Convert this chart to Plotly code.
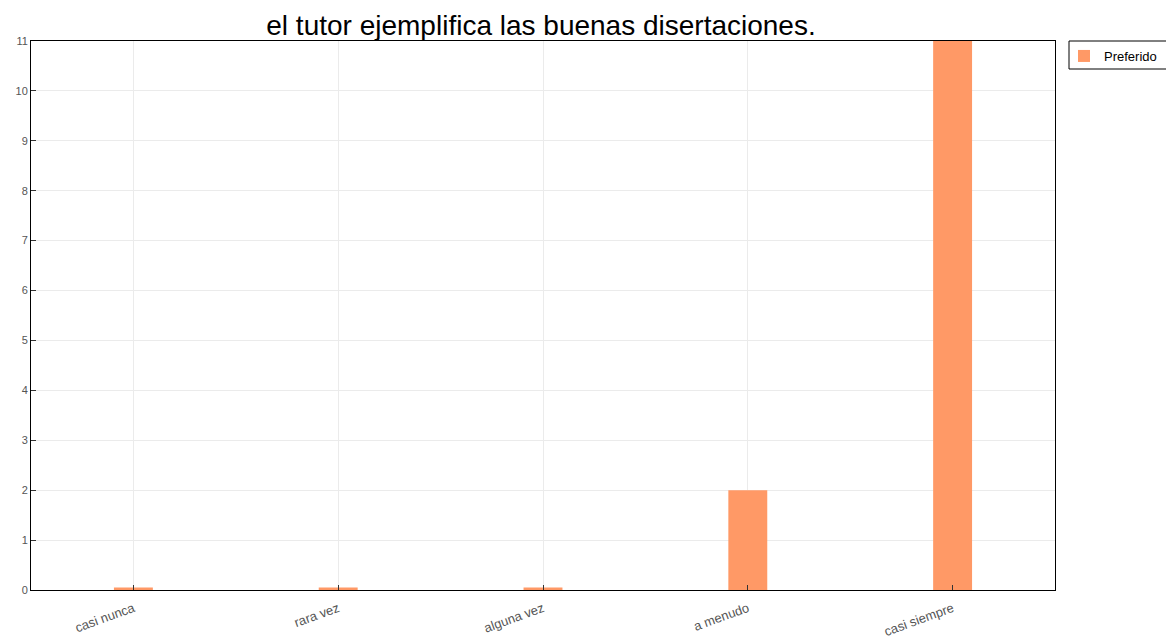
import plotly.graph_objects as go

categories = ["casi nunca", "rara vez", "alguna vez", "a menudo", "casi siempre"]
values = [0.05, 0.05, 0.05, 2, 11]
series_name = "Preferido"
title_text = "el tutor ejemplifica las buenas disertaciones."
y_ticks = list(range(0, 12))

W, H = 1166, 641
L, R, T, B = 31, 111, 41, 51
pw, ph = W - L - R, H - T - B

fig = go.Figure()
fig.add_trace(go.Bar(
    x=categories, y=values, name=series_name,
    marker=dict(color="#FF9966", line=dict(width=0)),
    width=0.19, showlegend=True,
))

# legend frame (decoration)
fig.add_shape(type="rect", xref="paper", yref="paper",
              x0=(1069 - L) / pw, x1=(1175 - L) / pw,
              y0=(H - B - 69) / ph, y1=(H - B - 41) / ph,
              line=dict(color="black", width=1), fillcolor="rgba(0,0,0,0)", layer="above")

fig.update_layout(
    width=W, height=H,
    margin=dict(l=L, r=R, t=T, b=B, autoexpand=False),
    paper_bgcolor="white", plot_bgcolor="white",
    font=dict(family="Liberation Sans, Arial, sans-serif", size=12, color="#555"),
    title=dict(text=title_text, x=(541 - L) / pw, xref="paper", y=1 - 25/641, yref="container",
               yanchor="middle", xanchor="center",
               font=dict(size=28, color="black", family="Liberation Sans, Arial, sans-serif")),
    showlegend=True,
    legend=dict(x=(1064 - L) / pw, y=1.0, xanchor="left", yanchor="top",
                borderwidth=0, bgcolor="rgba(0,0,0,0)",
                font=dict(size=13, color="black"), itemwidth=30),
    bargap=0.8,
)
fig.update_xaxes(
    range=[-0.5, 4.5], showline=True, linecolor="black", linewidth=1, mirror=True,
    showgrid=True, gridcolor="#ebebeb", ticks="inside", ticklen=5, tickcolor="#333",
    tickangle=-20, tickfont=dict(size=13, color="#555"), automargin=False,
    ticklabelstandoff=5,
)
fig.update_yaxes(
    range=[0, 11], tickvals=y_ticks, showline=True, linecolor="black", linewidth=1, mirror=True,
    showgrid=True, gridcolor="#ebebeb", ticks="inside", ticklen=5, tickcolor="#333",
    tickfont=dict(size=11, color="#555"), zeroline=False, automargin=False,
)

fig.write_html("out.html", config={"displayModeBar": False},
               post_script="document.body.style.margin='0';")
